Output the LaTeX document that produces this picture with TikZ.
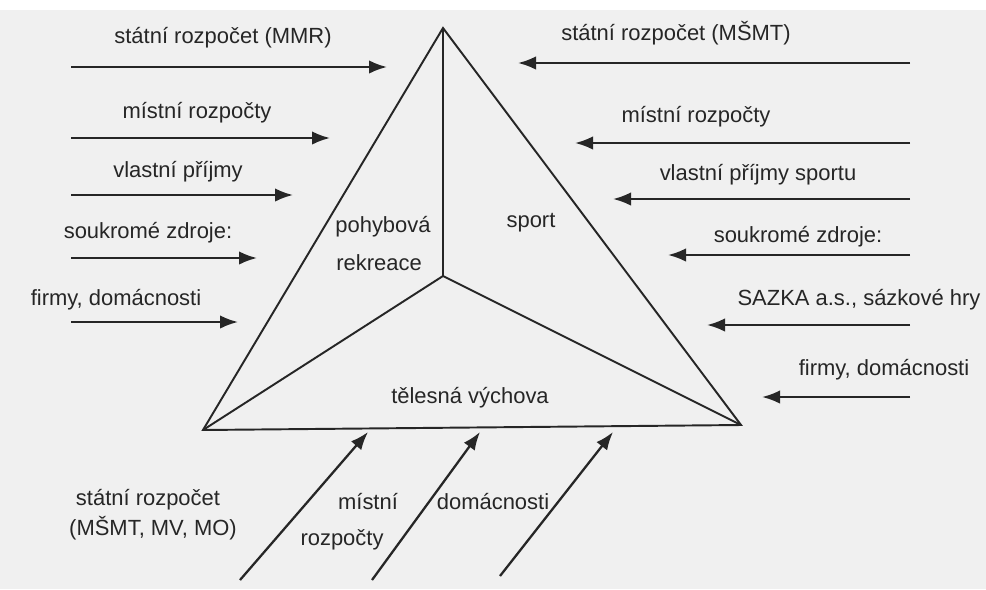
\documentclass[tikz,border=0pt]{standalone}
\usepackage{fontspec}
\setmainfont{Liberation Sans}
\usetikzlibrary{arrows.meta}
\tikzset{
  flow/.style={line width=1.3pt, black!85, -{Latex[length=3.6mm,width=2.7mm]}},
  edge/.style={line width=1.1pt, black!85, line join=miter},
  lbl/.style={inner sep=0pt, text=black!85, font=\fontsize{12.5}{15}\selectfont},
}
\begin{document}
\begin{tikzpicture}[x=0.02cm,y=-0.02cm]
    \fill[white] (0,0) rectangle (986,589);
    \fill[black!6] (0,10) rectangle (986,589);
    \useasboundingbox (0,0) rectangle (986,589);
    % triangle
    \coordinate (top) at (443,28);
    \coordinate (bl) at (203,430);
    \coordinate (br) at (741,425);
    \coordinate (mid) at (443,276);
    \draw[edge] (top) -- (bl) -- (br) -- cycle;
    \draw[edge] (top) -- (mid) (bl) -- (mid) -- (br);
    \node[lbl] (rek1) at (383,227) {pohybová};
    \node[lbl] (rek2) at (379,263) {rekreace};
    \node[lbl] (sport) at (531,223) {sport};
    \node[lbl] (tv) at (470,398) {tělesná výchova};
    % left inflows
    \foreach \i/\tx/\ty/\txt/\ay/\ae in {
        1/223/38/{státní rozpočet (MMR)}/67/387,
        2/197/113/{místní rozpočty}/138/330,
        3/178/172/{vlastní příjmy}/195/293,
        4/148/233/{soukromé zdroje:}/258/257,
        5/116/300/{firmy, domácnosti}/322/238}
    {
        \node[lbl] (lt\i) at (\tx,\ty) {\txt};
        \coordinate (la\i) at (71,\ay);
        \coordinate (lb\i) at (\ae,\ay);
        \draw[flow] (la\i) -- (lb\i);
    }
    % right inflows
    \foreach \i/\tx/\ty/\txt/\ay/\ae in {
        1/676/33/{státní rozpočet (MŠMT)}/63/518,
        2/696/117/{místní rozpočty}/143/575,
        3/758/175/{vlastní příjmy sportu}/199/613,
        4/798/237/{soukromé zdroje:}/255/668,
        5/859/300/{SAZKA a.s., sázkové hry}/325/707,
        6/884/370/{firmy, domácnosti}/397/762}
    {
        \node[lbl] (rt\i) at (\tx,\ty) {\txt};
        \coordinate (ra\i) at (910,\ay);
        \coordinate (rb\i) at (\ae,\ay);
        \draw[flow] (ra\i) -- (rb\i);
    }
    % bottom inflows
    \foreach \i/\sx/\sy/\ex in {1/240/580/368, 2/372/580/480, 3/500/576/613}
    {
        \coordinate (ba\i) at (\sx,\sy);
        \coordinate (bb\i) at (\ex,432);
        \draw[flow] (ba\i) -- (bb\i);
    }
    \node[lbl] (bt1) at (148,500) {státní rozpočet};
    \node[lbl] (bt2) at (153,528) {(MŠMT, MV, MO)};
    \node[lbl] (bt3) at (368,502) {místní};
    \node[lbl] (bt4) at (342,540) {rozpočty};
    \node[lbl] (bt5) at (493,502) {domácnosti};
\end{tikzpicture}
\end{document}
